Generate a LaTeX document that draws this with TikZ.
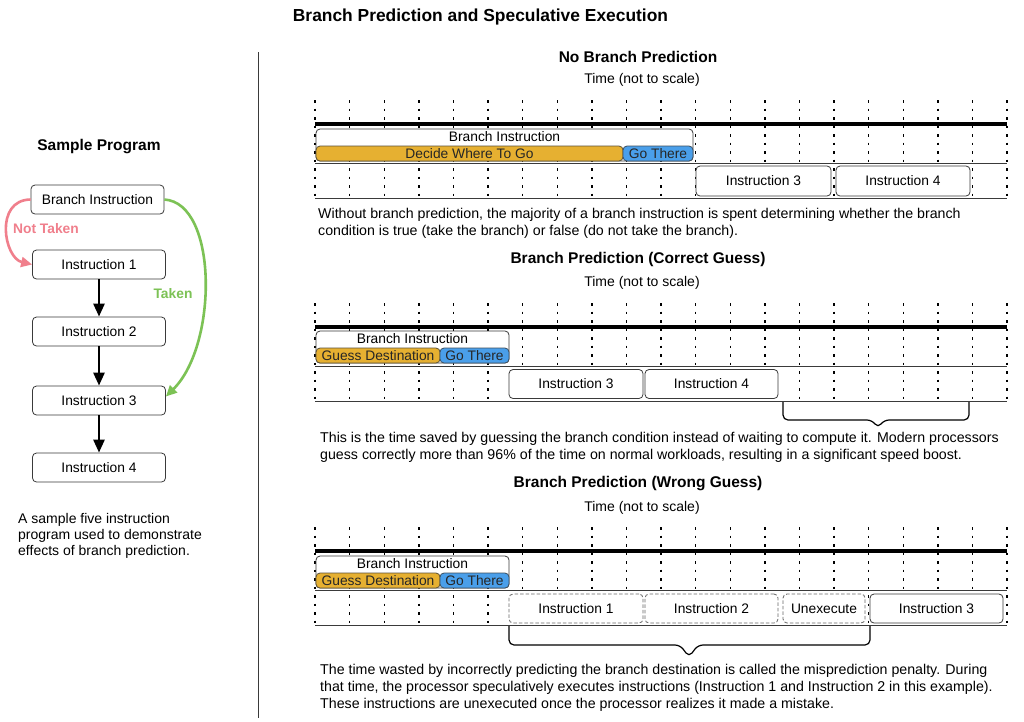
\documentclass[tikz,border=0pt]{standalone}
\usepackage{fontspec}
\setmainfont{Liberation Sans}
\usetikzlibrary{arrows.meta}
\definecolor{ygold}{HTML}{E6B031}
\definecolor{bblue}{HTML}{4A9FEA}
\definecolor{pinkc}{HTML}{F07F8C}
\definecolor{greenc}{HTML}{7CC255}
\definecolor{edgec}{HTML}{3A3A3A}
\newcommand{\boxfont}{\fontsize{13.8}{16}\selectfont}
\newcommand{\bodyfont}{\fontsize{14.2}{17}\selectfont}
\newcommand{\capfont}{\fontsize{14}{16}\selectfont}
\newcommand{\headfont}{\fontsize{15.5}{18}\selectfont\bfseries}
\newcommand{\titlefont}{\fontsize{17.4}{20}\selectfont\bfseries}
\newcommand{\timegrid}[1]{%
  \foreach \k in {0,...,20} {\draw[gridline] ({315+34.6*\k},#1-24) -- ({315+34.6*\k},#1+75);}
  \draw[thinline] (315,#1+39) -- (1007,#1+39);
  \draw[thinline] (315,#1+74) -- (1007,#1+74);
  \draw[line width=3.6pt] (315,#1) -- (1007,#1);
}
\begin{document}
\begin{tikzpicture}[x=1pt,y=-1pt,
  every node/.style={inner sep=0pt},
  gridline/.style={line width=1.4pt, dash pattern=on 2.6pt off 5.9pt},
  thinline/.style={line width=0.8pt, draw=edgec},
  ibox/.style={draw=edgec, line width=0.8pt, rounded corners=4pt, fill=white, font=\boxfont},
  dbox/.style={ibox, dash pattern=on 3.5pt off 2pt, draw=gray!80!black},
  ybar/.style={draw=edgec!80!ygold, line width=0.8pt, rounded corners=4pt, fill=ygold, font=\boxfont, text=black!85},
  bbar/.style={draw=edgec!80!bblue, line width=0.8pt, rounded corners=4pt, fill=bblue, font=\boxfont, text=black!85},
  fbox/.style={ibox, minimum width=133pt, minimum height=29pt},
  flowarrow/.style={line width=2.6pt, -{Triangle[length=13pt,width=11pt]}},
  para/.style={anchor=base west, align=left, font=\bodyfont},
  head/.style={font=\headfont},
  timelbl/.style={font=\fontsize{14}{16}\selectfont}]
\useasboundingbox (0,0) rectangle (1024,721);
\fill[white] (0,0) rectangle (1024,721);

% title and separator
\node[font=\titlefont] (title) at (480.5,17) {Branch Prediction and Speculative Execution};
\draw[line width=0.8pt, draw=edgec] (258,52) -- (258,718);

% ---------------- left: sample program ----------------
\node[head] (sp) at (99,147) {Sample Program};
\node[fbox] (fb) at (97.5,199.5) {Branch Instruction};
\node[fbox] (f1) at (99,264.5) {Instruction 1};
\node[fbox] (f2) at (99,331.5) {Instruction 2};
\node[fbox] (f3) at (99,400.5) {Instruction 3};
\node[fbox] (f4) at (99,467.5) {Instruction 4};
\draw[flowarrow] (f1.south) -- (f2.north);
\draw[flowarrow] (f2.south) -- (f3.north);
\draw[flowarrow] (f3.south) -- (f4.north);
\draw[pinkc, line width=2.6pt, -{Triangle[length=11pt,width=10pt]}]
  (fb.west) .. controls (-6,200) and (4,258) .. (f1.west);
\draw[greenc, line width=2.6pt, -{Triangle[length=11pt,width=10pt]}]
  (fb.east) .. controls (218,203) and (218,345) .. ([yshift=4pt]f3.east);
\node[font=\fontsize{13.8}{16}\selectfont\bfseries, text=pinkc] (nt) at (46,229) {Not Taken};
\node[font=\fontsize{13.8}{16}\selectfont\bfseries, text=greenc] (tk) at (173,294) {Taken};
\node[anchor=base west, align=left, font=\capfont] (cap) at (18,555) {A sample five instruction\\program used to demonstrate\\effects of branch prediction.};

% ---------------- panel 1: no branch prediction ----------------
\node[head] (h1) at (638,57) {No Branch Prediction};
\node[timelbl] (t1) at (642,80) {Time (not to scale)};
\timegrid{124}
\node[ibox, minimum width=377pt, minimum height=32pt] (bi1) at (504.5,145) {};
\node[font=\boxfont] (bl1) at (504.5,136.5) {Branch Instruction};
\node[ybar, minimum width=307pt, minimum height=15pt] (dw1) at (469.5,153.5) {Decide Where To Go};
\node[bbar, minimum width=70pt, minimum height=15pt] (gt1) at (658,153.5) {Go There};
\node[ibox, minimum width=135pt, minimum height=30pt] (a3) at (763.5,181) {Instruction 3};
\node[ibox, minimum width=134pt, minimum height=30pt] (a4) at (903,181) {Instruction 4};
\node[para] (p1) at (318,235) {Without branch prediction, the majority of a branch instruction is spent determining whether the branch\\condition is true (take the branch) or false (do not take the branch).};

% ---------------- panel 2: correct guess ----------------
\node[head] (h2) at (638,259) {Branch Prediction (Correct Guess)};
\node[timelbl] (t2) at (642,283) {Time (not to scale)};
\timegrid{327}
\node[ibox, minimum width=193pt, minimum height=32pt] (bi2) at (412.5,347) {};
\node[font=\boxfont] (bl2) at (412.5,338.5) {Branch Instruction};
\node[ybar, minimum width=124pt, minimum height=15pt] (gd2) at (378,355.5) {Guess Destination};
\node[bbar, minimum width=69pt, minimum height=15pt] (gt2) at (474.5,355.5) {Go There};
\node[ibox, minimum width=134pt, minimum height=29pt] (b3) at (576,384) {Instruction 3};
\node[ibox, minimum width=133pt, minimum height=29pt] (b4) at (711.5,384) {Instruction 4};
\draw[line width=1.2pt, rounded corners=5pt] (783,402) -- (783,420) -- (872,420) -- (878,428) -- (884,420) -- (969,420) -- (969,402);
\node[para] (p2) at (320,459) {This is the time saved by guessing the branch condition instead of waiting to compute it. Modern processors\\guess correctly more than 96\% of the time on normal workloads, resulting in a significant speed boost.};

% ---------------- panel 3: wrong guess ----------------
\node[head] (h3) at (638,484) {Branch Prediction (Wrong Guess)};
\node[timelbl] (t3) at (642,508) {Time (not to scale)};
\timegrid{551}
\node[ibox, minimum width=193pt, minimum height=32pt] (bi3) at (412.5,572) {};
\node[font=\boxfont] (bl3) at (412.5,563.5) {Branch Instruction};
\node[ybar, minimum width=124pt, minimum height=15pt] (gd3) at (378,580.5) {Guess Destination};
\node[bbar, minimum width=69pt, minimum height=15pt] (gt3) at (474.5,580.5) {Go There};
\node[dbox, minimum width=134pt, minimum height=29pt] (c1) at (576,608.5) {Instruction 1};
\node[dbox, minimum width=133pt, minimum height=29pt] (c2) at (711.5,608.5) {Instruction 2};
\node[dbox, minimum width=82pt, minimum height=29pt] (cu) at (824,608.5) {Unexecute};
\node[ibox, minimum width=133pt, minimum height=29pt] (c3) at (936.5,608.5) {Instruction 3};
\draw[line width=1.2pt, rounded corners=5pt] (509,626) -- (509,645) -- (680,645) -- (689,657) -- (698,645) -- (870,645) -- (870,626);
\node[para] (p3) at (320,708) {The time wasted by incorrectly predicting the branch destination is called the misprediction penalty. During\\that time, the processor speculatively executes instructions (Instruction 1 and Instruction 2 in this example).\\These instructions are unexecuted once the processor realizes it made a mistake.};
\end{tikzpicture}
\end{document}
